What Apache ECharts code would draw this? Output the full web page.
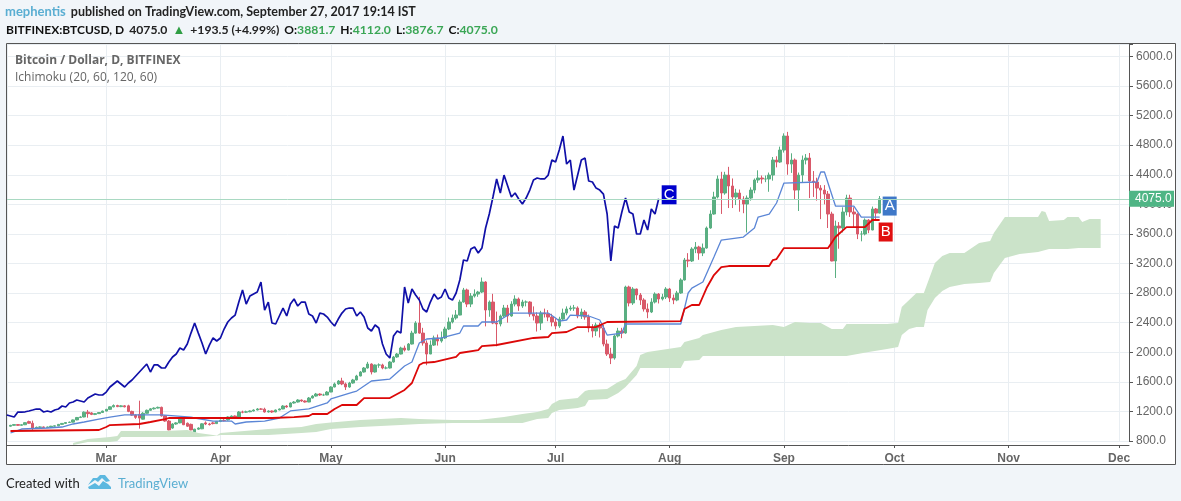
<!DOCTYPE html>
<html>
<head>
<meta charset="utf-8">
<title>BTCUSD Ichimoku</title>
<script src="https://cdn.jsdelivr.net/npm/echarts@6/dist/echarts.min.js"></script>
<style>
html,body{margin:0;padding:0;background:#f1f5f9;}
#main{width:1181px;height:501px;}
</style>
</head>
<body>
<div id="main"></div>
<script>
// daily bars, day 0 = 3 Feb 2017, last bar day 236 = 27 Sep 2017
var candleOpen = [
1000,1012,1022,1012,1020,1062,1040,975,985,990,
982,990,1000,1005,1025,1038,1050,1055,1085,1118,
1125,1190,1180,1160,1170,1185,1205,1228,1262,1280,
1265,1275,1275,1200,1150,1160,1095,1175,1215,1235,
1245,1255,1140,1070,975,1030,1045,1100,1040,1025,
920,960,965,1045,1030,1045,1035,1065,1080,1085,
1125,1138,1124,1192,1190,1195,1206,1219,1233,1230,
1192,1206,1192,1219,1233,1273,1260,1314,1327,1354,
1341,1327,1381,1408,1435,1422,1422,1462,1530,1571,
1611,1571,1530,1584,1625,1679,1733,1787,1841,1733,
1828,1828,1787,1787,1868,1936,1976,2057,2030,2111,
2259,2395,2259,2125,1976,2097,2193,2152,2193,2314,
2409,2463,2503,2679,2842,2652,2760,2787,2814,2950,
2571,2679,2395,2382,2490,2598,2490,2652,2720,2625,
2679,2679,2517,2490,2395,2530,2517,2476,2409,2355,
2449,2530,2585,2598,2598,2490,2544,2476,2328,2287,
2368,2328,2111,1976,1922,2220,2287,2260,2882,2666,
2855,2774,2706,2585,2544,2679,2787,2720,2747,2855,
2733,2706,2801,2977,3247,3234,3396,3423,3342,3409,
3680,3869,4099,4343,4153,4396,4248,4099,4153,4072,
4004,4085,4193,4329,4356,4343,4343,4396,4599,4572,
4734,4924,4545,4599,4193,4396,4599,4626,4315,4302,
4220,4193,4139,3869,3234,3707,3680,3896,4085,3896,
3869,3599,3599,3788,3653,3937,3881.7
];
var candleClose = [
1012,1022,1012,1020,1048,1040,975,985,990,982,
990,1000,1005,1025,1038,1050,1055,1085,1118,1125,
1190,1170,1160,1170,1185,1205,1228,1262,1280,1265,
1275,1262,1200,1150,1120,1110,1175,1215,1235,1245,
1255,1140,1070,950,1030,1045,1105,1020,1000,950,
960,975,1032,1030,1022,1035,1065,1080,1075,1125,
1138,1124,1192,1190,1195,1206,1219,1233,1230,1192,
1206,1192,1219,1233,1273,1260,1314,1327,1354,1341,
1327,1381,1408,1435,1422,1422,1462,1530,1571,1611,
1571,1530,1584,1625,1679,1733,1787,1841,1733,1828,
1828,1787,1787,1868,1936,1976,2057,2030,2111,2259,
2395,2259,2125,1976,2097,2193,2152,2193,2314,2409,
2463,2503,2679,2842,2652,2760,2787,2814,2950,2571,
2679,2395,2382,2490,2598,2490,2652,2720,2625,2679,
2679,2517,2490,2395,2530,2517,2476,2409,2355,2449,
2530,2585,2598,2598,2490,2544,2476,2328,2287,2368,
2328,2111,1976,1922,2220,2287,2260,2882,2666,2855,
2774,2706,2585,2544,2679,2787,2720,2747,2855,2733,
2706,2801,2977,3247,3234,3396,3423,3342,3409,3680,
3869,4099,4343,4153,4396,4248,4099,4153,4072,4004,
4085,4193,4329,4356,4343,4343,4396,4599,4572,4734,
4924,4545,4599,4193,4396,4599,4626,4315,4302,4220,
4193,4139,3869,3234,3707,3680,3896,4085,3896,3869,
3599,3599,3788,3653,3937,3881.7,4075
];
var candleLow = [
995,1005,1005,1008,1015,1035,950,965,975,975,
980,985,995,1000,1020,1030,1045,1050,1080,1110,
1120,1115,1150,1150,1165,1180,1200,1220,1255,1258,
1258,1255,1190,1140,1100,967,1090,1170,1210,1225,
1240,1130,1060,945,965,1020,1040,1015,990,945,
900,950,960,1015,1010,1025,1030,1055,1065,1075,
1115,1115,1120,1175,1180,1190,1200,1215,1220,1185,
1185,1180,1190,1215,1230,1250,1255,1305,1320,1330,
1320,1325,1375,1400,1410,1410,1420,1460,1525,1560,
1555,1490,1520,1575,1620,1675,1725,1780,1700,1725,
1790,1770,1770,1780,1860,1925,1970,2010,2025,2105,
2250,2250,2090,1825,1975,2085,2090,2130,2180,2300,
2390,2440,2500,2670,2610,2610,2740,2750,2800,2350,
2480,2380,2080,2350,2470,2400,2480,2620,2560,2600,
2620,2480,2430,2280,2300,2470,2420,2350,2310,2330,
2430,2500,2560,2560,2460,2450,2440,2270,2200,2220,
2200,2080,1950,1840,1900,2200,2190,2250,2620,2640,
2710,2640,2550,2460,2530,2660,2660,2700,2720,2680,
2650,2690,2790,2970,3150,3220,3340,3250,3300,3400,
3670,3860,4080,3870,4130,3950,3950,3990,3900,3880,
3620,4050,4150,4290,4280,4300,4170,4320,4500,4560,
4700,4400,4425,4060,3910,4300,4540,4085,4100,4050,
3800,4000,3680,3230,3004,3400,3620,3850,3830,3680,
3530,3500,3580,3610,3650,3800,3876.7
];
var candleHigh = [
1018,1030,1028,1026,1055,1075,1075,995,998,996,
995,1005,1010,1030,1042,1055,1062,1090,1125,1135,
1200,1220,1190,1178,1190,1210,1235,1270,1295,1290,
1285,1285,1290,1210,1160,1345,1190,1225,1245,1255,
1265,1265,1150,1085,1040,1055,1120,1120,1050,1035,
965,985,1040,1065,1045,1060,1070,1090,1095,1135,
1145,1145,1205,1210,1210,1215,1228,1245,1245,1250,
1215,1212,1225,1240,1285,1285,1322,1340,1365,1360,
1350,1395,1420,1450,1445,1440,1475,1540,1590,1625,
1655,1590,1600,1640,1695,1745,1800,1870,1850,1835,
1850,1845,1810,1880,1950,1990,2075,2090,2125,2290,
2420,2750,2330,2160,2160,2225,2240,2280,2345,2470,
2510,2570,2710,2870,2860,2800,2850,2830,3010,2960,
2700,2790,2550,2510,2640,2640,2690,2770,2740,2710,
2700,2690,2620,2540,2560,2590,2570,2520,2460,2480,
2590,2620,2630,2640,2620,2590,2570,2510,2380,2400,
2400,2370,2170,2060,2240,2330,2330,2900,2900,2880,
2860,2800,2730,2660,2730,2810,2800,2790,2880,2870,
2780,2830,3000,3275,3340,3420,3490,3440,3470,3700,
3920,4170,4390,4440,4440,4507,4350,4210,4200,4110,
4120,4230,4350,4460,4390,4390,4430,4640,4650,4780,
4960,4980,4690,4620,4430,4660,4680,4694,4450,4360,
4260,4260,4180,3900,3780,3760,3960,4130,4130,3960,
3880,3640,3810,3800,3970,3950,4112
];

// lagging span, plotted from day -1 to day 176
var laggingSpan = [
1152,1138,1124,1192,1190,1195,1206,1219,1233,1230,1192,
1206,1192,1219,1233,1273,1260,1314,1327,1354,1341,
1327,1381,1408,1435,1422,1422,1462,1530,1571,1611,
1571,1530,1584,1625,1679,1733,1787,1841,1733,1828,
1828,1787,1787,1868,1936,1976,2057,2030,2111,2259,
2395,2259,2125,1976,2097,2193,2152,2193,2314,2409,
2463,2503,2679,2842,2652,2760,2787,2814,2950,2571,
2679,2395,2382,2490,2598,2490,2652,2720,2625,2679,
2679,2517,2490,2395,2530,2517,2476,2409,2355,2449,
2530,2585,2598,2598,2490,2544,2476,2328,2287,2368,
2328,2111,1976,1922,2220,2287,2260,2882,2666,2855,
2774,2706,2585,2544,2679,2787,2720,2747,2855,2733,
2706,2801,2977,3247,3234,3396,3423,3342,3409,3680,
3869,4099,4343,4153,4396,4248,4099,4153,4072,4004,
4085,4193,4329,4356,4343,4343,4396,4599,4572,4734,
4924,4545,4599,4193,4396,4599,4626,4315,4302,4220,
4193,4139,3869,3234,3707,3680,3896,4085,3896,3869,
3599,3599,3788,3653,3937,3869,4075
];

// conversion line, corners only
var conversionDays = [0,3,10,14,17,20,24,27,31,41,49,50,55,60,61,64,69,73,76,81,86,87,93,94,98,103,107,109,111,113,117,122,123,127,128,132,136,146,148,149,151,152,157,160,162,166,167,182,184,185,188,191,193,199,202,203,206,208,210,219,220,221,224,229,231,236];
var conversionLine = [908,962,976,989,1030,1057,1097,1124,1152,1152,1124,1111,1070,1070,1030,1057,1070,1111,1206,1233,1314,1368,1462,1476,1611,1638,1814,1868,2125,2179,2193,2260,2355,2355,2409,2409,2530,2530,2463,2422,2436,2503,2490,2436,2233,2260,2382,2382,2801,2868,2950,3288,3517,3558,3680,3828,3869,4018,4288,4302,4437,4437,3977,3977,3828,3828];

// base line, corners only
var baseDays = [0,24,26,27,35,38,42,43,71,77,81,82,86,88,90,94,96,103,107,109,111,112,115,121,122,127,128,132,142,146,147,151,154,159,162,182,183,185,187,189,191,193,195,206,207,208,210,222,224,227,232,234,236];
var baseLine = [935,949,989,1016,1030,1057,1097,1111,1111,1124,1138,1165,1165,1233,1287,1287,1381,1381,1490,1584,1828,1855,1868,1936,1990,2030,2084,2098,2193,2206,2260,2274,2341,2341,2409,2422,2585,2639,2639,2868,3044,3152,3166,3166,3247,3260,3409,3409,3558,3693,3693,3788,3788];

// cloud edges, shared days
var cloudDays = [17,21,27,29,30,42,48,51,55,56,57,70,79,83,87,95,106,111,120,127,134,139,143,146,147,149,154,156,157,162,165,167,170,171,173,182,183,187,188,193,197,207,210,213,217,220,223,226,227,233,238,241,242,244,246,248,249,251,253,255,259,263,266,267,270,274,279,280,281,282,286,287,290,291,293,296];
var cloudTop = [773,827,854,868,935,935,949,908,881,874,908,962,989,1030,1050,1084,1111,1097,1084,1084,1124,1165,1192,1233,1300,1354,1381,1476,1490,1503,1598,1638,1814,1963,2003,2071,2138,2193,2233,2301,2341,2368,2341,2409,2395,2395,2314,2314,2382,2382,2382,2395,2612,2706,2801,2801,2936,3207,3301,3342,3342,3477,3504,3612,3828,3828,3828,3910,3896,3774,3788,3828,3828,3761,3801,3801];
var cloudBottom = [746,786,786,800,854,854,854,854,868,870,881,881,908,922,962,989,1016,1030,1043,1043,1043,1043,1097,1111,1179,1219,1246,1273,1354,1368,1449,1530,1692,1787,1787,1787,1882,1895,1949,1949,1949,1949,1949,1949,1949,1949,1949,1949,1949,2003,2044,2071,2233,2314,2341,2341,2571,2733,2828,2882,2923,2936,2950,3071,3274,3328,3355,3369,3382,3396,3396,3396,3409,3409,3409,3409];

var priceTicks = 400;
var lastPrice = 4075;
var monthNames = ['Jan','Feb','Mar','Apr','May','Jun','Jul','Aug','Sep','Oct','Nov','Dec'];

var dayMs = 86400000;
function dayTime(i){ return Date.UTC(2017,1,3) + i*dayMs; }
function pairs(days, vals){
	return days.map(function(d, i){ return [dayTime(d), vals[i]]; });
}

var candleData = candleClose.map(function(c, i){
	return [dayTime(i), candleOpen[i], c, candleLow[i], candleHigh[i]];
});
var cloudGap = cloudTop.map(function(t, i){ return t - cloudBottom[i]; });

var textFont = 'Lato,"Open Sans",sans-serif';
var noteFont = '"Open Sans","Noto Sans",sans-serif';
var axisFont = '"Liberation Sans",Arial,sans-serif';

var option = {
	animation: false,
	useUTC: true,
	backgroundColor: '#f1f5f9',
	title: [
		{
			left: 5, top: 3, padding: 0,
			text: '{a|mephentis} {b|published on TradingView.com, September 27, 2017 19:14 IST}',
			textStyle: {
				rich: {
					a: {color:'#5aaed2', fontFamily:textFont, fontSize:13},
					b: {color:'#222', fontFamily:textFont, fontSize:12.5}
				}
			}
		},
		{
			left: 6, top: 21, padding: 0,
			text: '{k|BITFINEX:BTCUSD, D} {v|4075.0} {t|▲} {v|+193.5 (+4.99%)} {k|O:}{g|3881.7} {k|H:}{g|4112.0} {k|L:}{g|3876.7} {k|C:}{g|4075.0}',
			textStyle: {
				rich: {
					k: {color:'#111', fontFamily:textFont, fontSize:12, fontWeight:'bold'},
					v: {color:'#222', fontFamily:textFont, fontSize:12.2},
					g: {color:'#3aa655', fontFamily:textFont, fontSize:12.2},
					t: {color:'#2f9e44', fontFamily:axisFont, fontSize:13}
				}
			}
		},
		{
			left: 15, top: 55, padding: 0,
			text: 'Bitcoin / Dollar, D, BITFINEX',
			textStyle: {color:'#666', fontFamily:noteFont, fontSize:12, fontWeight:'bold'}
		},
		{
			left: 15, top: 72, padding: 0,
			text: 'Ichimoku (20, 60, 120, 60)',
			textStyle: {color:'#666', fontFamily:noteFont, fontSize:12, fontWeight:'normal'}
		},
		{
			left: 6, top: 477, padding: 0,
			text: 'Created with',
			textStyle: {color:'#222', fontFamily:textFont, fontSize:13, fontWeight:'normal'}
		},
		{
			left: 118, top: 477, padding: 0,
			text: 'TradingView',
			textStyle: {color:'#5aaed2', fontFamily:textFont, fontSize:13, fontWeight:'normal'}
		}
	],
	graphic: {
		elements: [
			{
				type:'rect', z:-10, silent:true,
				shape:{x:6.5, y:43.5, width:1169, height:421},
				style:{fill:'#fff', stroke:'#555', lineWidth:1}
			},
			{
				type:'polygon', silent:true,
				shape:{points:[[88,485],[93,478],[97,478],[100,475],[105,475],[110,481],[106,482],[102,478],[98,482],[95,480]]},
				style:{fill:'#5cb8e0'}
			},
			{
				type:'polygon', silent:true,
				shape:{points:[[88,487],[95,483],[99,486],[103,481],[108,484],[111,487],[111,489],[89,489]]},
				style:{fill:'#5cb8e0'}
			}
		]
	},
	grid: {left:7, right:52, top:44, bottom:60, containLabel:false},
	xAxis: {
		type: 'time',
		min: dayTime(-0.95),
		max: dayTime(303.7),
		splitNumber: 9,
		offset: 4,
		axisLine: {onZero:false, lineStyle:{color:'#555', width:1}},
		axisTick: {show:true, length:3, lineStyle:{color:'#555'}},
		axisLabel: {
			color:'#666', fontFamily:axisFont, fontSize:12, fontWeight:'bold', margin:8,
			hideOverlap:false,
			formatter: function(v){
				var d = new Date(v);
				return d.getUTCDate() == 1 ? monthNames[d.getUTCMonth()] : '';
			}
		},
		splitLine: {show:true, lineStyle:{color:'#e9eef2', width:1}}
	},
	yAxis: {
		type: 'value',
		position: 'right',
		min: 800,
		max: 6168,
		interval: priceTicks,
		scale: true,
		axisLine: {show:true, lineStyle:{color:'#555', width:1}},
		axisTick: {show:true, length:4, lineStyle:{color:'#555'}},
		axisLabel: {
			color:'#666', fontFamily:axisFont, fontSize:12, margin:7,
			formatter: function(v){ return v % priceTicks == 0 ? v.toFixed(1) : ''; }
		},
		splitLine: {show:true, lineStyle:{color:'#e9eef2', width:1}}
	},
	series: [
		{
			name: 'cloud low',
			type: 'line',
			stack: 'cloud',
			clip: false,
			symbol: 'none',
			lineStyle: {width:0, opacity:0},
			data: pairs(cloudDays, cloudBottom)
		},
		{
			name: 'cloud',
			type: 'line',
			stack: 'cloud',
			clip: false,
			symbol: 'none',
			lineStyle: {width:0, opacity:0},
			areaStyle: {color:'#cbe3c9', opacity:1},
			data: pairs(cloudDays, cloudGap)
		},
		{
			name: 'BTCUSD',
			type: 'candlestick',
			barWidth: 3,
			itemStyle: {color:'#5aaf82', color0:'#d9596a', borderColor:'#5aaf82', borderColor0:'#d9596a', borderWidth:1},
			data: candleData,
			markLine: {
				silent: true,
				symbol: 'none',
				lineStyle: {color:'#a9d9c2', width:1, type:'solid'},
				label: {
					position:'end', distance:0, formatter:lastPrice.toFixed(1),
					color:'#fff', backgroundColor:'#4fb585',
					fontFamily:axisFont, fontSize:12, padding:[2,5,2,6], width:34
				},
				data: [{yAxis:lastPrice}]
			}
		},
		{
			name: 'Conversion',
			type: 'line',
			symbol: 'none',
			lineStyle: {color:'#5b86d6', width:1.3},
			data: pairs(conversionDays, conversionLine),
			endLabel: {
				show:true, formatter:'A', color:'#fff', backgroundColor:'#3f78c8',
				fontFamily:axisFont, fontSize:15, padding:[2,2], distance:3, offset:[0,-11]
			}
		},
		{
			name: 'Base',
			type: 'line',
			symbol: 'none',
			lineStyle: {color:'#dc0808', width:1.8},
			data: pairs(baseDays, baseLine),
			endLabel: {
				show:true, formatter:'B', color:'#fff', backgroundColor:'#e01010',
				fontFamily:axisFont, fontSize:15, padding:[2,2], distance:3, offset:[-4,12]
			}
		},
		{
			name: 'Lagging',
			type: 'line',
			symbol: 'none',
			lineStyle: {color:'#1010a8', width:1.7},
			data: laggingSpan.map(function(v, i){ return [dayTime(i-1), v]; }),
			endLabel: {
				show:true, formatter:'C', color:'#fff', backgroundColor:'#0000cc',
				fontFamily:axisFont, fontSize:15, padding:[2,2], distance:3, offset:[0,-4]
			}
		}
	]
};

var myChart = echarts.init(document.getElementById('main'));
myChart.setOption(option);
</script>
</body>
</html>
